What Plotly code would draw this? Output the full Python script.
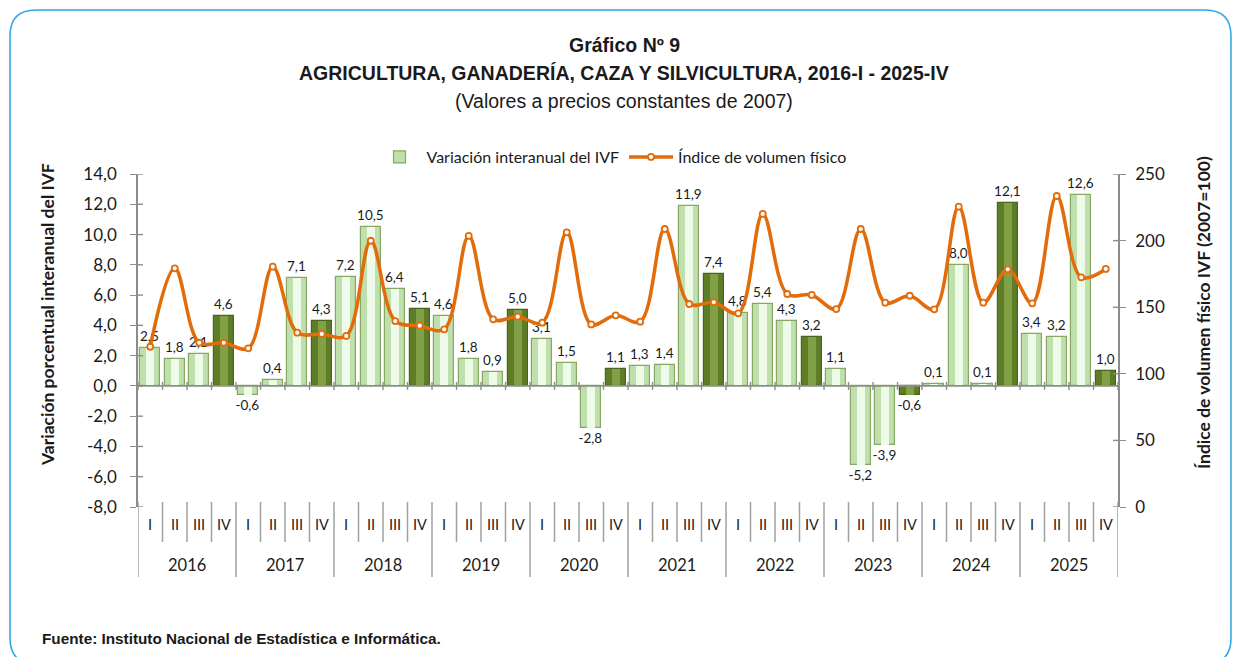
import plotly.graph_objects as go

# ---------------- data ----------------
years = ["2016", "2017", "2018", "2019", "2020", "2021", "2022", "2023", "2024", "2025"]
quarters = ["I", "II", "III", "IV"]

variacion = [2.5, 1.8, 2.1, 4.6,
             -0.6, 0.4, 7.1, 4.3,
             7.2, 10.5, 6.4, 5.1,
             4.6, 1.8, 0.9, 5.0,
             3.1, 1.5, -2.8, 1.1,
             1.3, 1.4, 11.9, 7.4,
             4.8, 5.4, 4.3, 3.2,
             1.1, -5.2, -3.9, -0.6,
             0.1, 8.0, 0.1, 12.1,
             3.4, 3.2, 12.6, 1.0]

ivf = [120.3, 179.2, 123.3, 123.3,
       119.1, 180.4, 130.9, 129.9,
       128.4, 199.9, 139.6, 136.1,
       133.4, 203.5, 140.9, 142.9,
       138.4, 206.2, 137.1, 143.9,
       139.1, 208.7, 152.4, 153.7,
       145.4, 220.0, 159.9, 159.2,
       148.6, 208.7, 153.4, 158.6,
       148.4, 225.5, 153.4, 178.4,
       152.9, 233.5, 172.4, 178.7]

left_ticks = [-8, -6, -4, -2, 0, 2, 4, 6, 8, 10, 12, 14]
right_ticks = [0, 50, 100, 150, 200, 250]

# ---------------- layout helpers (page pixel coordinates) ----------------
OFF = 8                      # default body margin of the html page
PAGE_W, PAGE_H = 1241, 657
L, R, T, B = 138, 1118, 174, 507   # plot area on the page


def px(xp):
    return (xp - L) / (R - L)


def py(yp):
    return (B - yp) / (B - T)


def fmt(v):
    return f"{v:.1f}".replace(".", ",")


n = len(variacion)
xs = list(range(n))
is_q4 = [i % 4 == 3 for i in xs]

outer_col = ["#5f7d27" if q else "#bfe0ad" for q in is_q4]
outer_line = ["#4a6420" if q else "#86a862" for q in is_q4]
inner_col = ["#82a045" if q else "#eefbe9" for q in is_q4]

label_font = "Lato, sans-serif"
title_font = "Liberation Sans, Arial, sans-serif"
txt = "#1a1a1a"

fig = go.Figure()

fig.add_trace(go.Bar(
    x=xs, y=variacion, width=0.8,
    name="Variación interanual del IVF",
    marker=dict(color=outer_col, line=dict(color=outer_line, width=1.2)),
    text=[fmt(v) for v in variacion], textposition="outside",
    textfont=dict(family=label_font, size=13.5, color=txt),
    cliponaxis=False, constraintext="none",
))
fig.add_trace(go.Bar(
    x=xs, y=variacion, width=0.32,
    marker=dict(color=inner_col, line=dict(width=0)),
    showlegend=False, hoverinfo="skip",
))
fig.add_trace(go.Scatter(
    x=xs, y=ivf, yaxis="y2", mode="lines+markers",
    name="Índice de volumen físico",
    line=dict(color="#e36c0a", width=3.5, shape="spline", smoothing=1),
    marker=dict(size=6, color="white", line=dict(color="#e36c0a", width=1.8)),
    cliponaxis=False,
))

shapes = []
axis_gray = "#8c8c8c"
# zero line with crossing tick marks
shapes.append(dict(type="line", xref="x", yref="y", x0=-0.5, x1=n - 0.5, y0=0, y1=0,
                   line=dict(color=axis_gray, width=1.6), layer="above"))
for i in range(n + 1):
    shapes.append(dict(type="line", xref="x", yref="y", ysizemode="pixel", yanchor=0,
                       x0=i - 0.5, x1=i - 0.5, y0=-4, y1=4,
                       line=dict(color=axis_gray, width=1.4), layer="above"))
# inner halves of the crossing ticks on both value axes
for v in left_ticks:
    shapes.append(dict(type="line", xref="paper", yref="y", xsizemode="pixel", xanchor=0,
                       x0=0, x1=5, y0=v, y1=v, line=dict(color=axis_gray, width=1.4)))
for v in right_ticks:
    shapes.append(dict(type="line", xref="paper", yref="y2", xsizemode="pixel", xanchor=1,
                       x0=-5, x1=0, y0=v, y1=v, line=dict(color=axis_gray, width=1.4)))
# category separators below the plot
for i in range(n + 1):
    long = (i % 4 == 0)
    shapes.append(dict(type="line", xref="x", yref="paper",
                       x0=i - 0.5, x1=i - 0.5, y0=py(502), y1=py(577 if long else 542),
                       line=dict(color="#a0a0a0", width=1.5)))

# rounded blue frame
fx0, fy0, fx1, fy1, rr = 10, 10, 1231, 664, 26
path = (f"M {px(fx0 + rr)},{py(fy0)} L {px(fx1 - rr)},{py(fy0)} "
        f"Q {px(fx1)},{py(fy0)} {px(fx1)},{py(fy0 + rr)} "
        f"L {px(fx1)},{py(fy1 - rr)} Q {px(fx1)},{py(fy1)} {px(fx1 - rr)},{py(fy1)} "
        f"L {px(fx0 + rr)},{py(fy1)} Q {px(fx0)},{py(fy1)} {px(fx0)},{py(fy1 - rr)} "
        f"L {px(fx0)},{py(fy0 + rr)} Q {px(fx0)},{py(fy0)} {px(fx0 + rr)},{py(fy0)} Z")
shapes.append(dict(type="path", xref="paper", yref="paper", path=path,
                   line=dict(color="#2aa6e8", width=1.5), layer="below"))


def ann(x, y, text, size, family, xref="paper", xanchor="center", angle=0):
    return dict(x=x, y=y, xref=xref, yref="paper", text=text, showarrow=False,
                xanchor=xanchor, yanchor="middle", textangle=angle,
                font=dict(family=family, size=size, color=txt))


annotations = []
for i in xs:
    annotations.append(ann(i, py(524), quarters[i % 4], 14.5, label_font, xref="x"))
for k, yr in enumerate(years):
    annotations.append(ann(4 * k + 1.5, py(565), yr, 16.5, label_font, xref="x"))

annotations += [
    ann(px(624), py(45), "<b>Gráfico Nº 9</b>", 19.5, title_font),
    ann(px(624), py(73), "<b>AGRICULTURA, GANADERÍA, CAZA Y SILVICULTURA, 2016-I - 2025-IV</b>",
        19.5, title_font),
    ann(px(624), py(101), "(Valores a precios constantes de 2007)", 19.5, title_font),
    ann(px(47), py(315), "<b>Variación porcentual interanual del IVF</b>", 17.5, label_font, angle=-90),
    ann(px(1203), py(313), "<b>Índice de volumen físico IVF (2007=100)</b>", 17.5, label_font, angle=-90),
    ann(px(40), py(638), "<b>Fuente: Instituto Nacional de Estadística e Informática.</b>",
        15.3, title_font, xanchor="left"),
]

fig.update_layout(
    width=PAGE_W - OFF, height=PAGE_H - OFF,
    margin=dict(l=L - OFF, r=PAGE_W - R, t=T - OFF, b=PAGE_H - B, pad=0),
    paper_bgcolor="white", plot_bgcolor="white",
    barmode="overlay", bargap=0,
    showlegend=True,
    legend=dict(orientation="h", x=px(612), xanchor="center", y=py(157), yanchor="middle",
                font=dict(family=label_font, size=16, color=txt),
                bgcolor="rgba(0,0,0,0)", itemwidth=44, tracegroupgap=0),
    xaxis=dict(range=[-0.5, n - 0.5], showticklabels=False, showgrid=False,
               zeroline=False, showline=False, ticks=""),
    yaxis=dict(range=[-8, 14], tickvals=left_ticks, ticktext=[fmt(v) for v in left_ticks],
               showgrid=False, zeroline=False, showline=True, linecolor=axis_gray, linewidth=1.6,
               ticks="outside", ticklen=6, tickcolor=axis_gray, tickwidth=1.4,
               ticklabelstandoff=10,
               tickfont=dict(family=label_font, size=17, color=txt)),
    yaxis2=dict(range=[0, 250], tickvals=right_ticks, overlaying="y", side="right",
                showgrid=False, zeroline=False, showline=True, linecolor=axis_gray, linewidth=1.6,
                ticks="outside", ticklen=6, tickcolor=axis_gray, tickwidth=1.4,
                ticklabelstandoff=6,
                tickfont=dict(family=label_font, size=17, color=txt)),
    shapes=shapes, annotations=annotations,
)

fig.write_html("out.html")
